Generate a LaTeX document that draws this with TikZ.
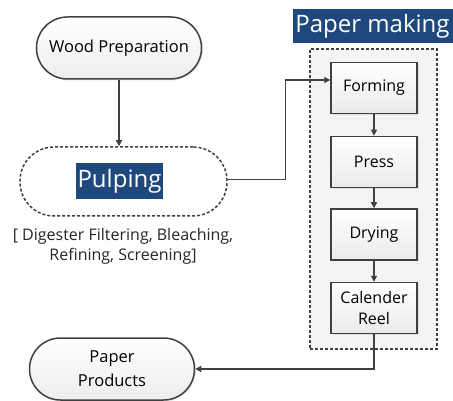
\documentclass[tikz,border=0pt]{standalone}
\usepackage{fontspec}
\setmainfont{Open Sans}
\usetikzlibrary{arrows.meta,shadows}
\definecolor{lc}{HTML}{404040}
\definecolor{navy}{HTML}{1F497D}
\begin{document}
\begin{tikzpicture}[x=1pt,y=-1pt,
  shd/.style={drop shadow={opacity=0.18,shadow xshift=1.5pt,shadow yshift=-1.5pt}},
  term/.style={draw=lc,line width=1.5pt,top color=white,bottom color=gray!14,
    minimum width=165pt,minimum height=62pt,rounded corners=31pt,align=center,
    font=\fontsize{16.5}{24}\selectfont,inner sep=0pt,shd},
  stepbox/.style={draw=lc,line width=1.5pt,top color=white,bottom color=gray!16,
    minimum width=86pt,minimum height=51pt,align=center,inner sep=0pt,
    font=\fontsize{16}{21}\selectfont,shd},
  title/.style={fill=navy,text=white,font=\fontsize{24}{28}\selectfont,inner sep=0pt},
  arr/.style={draw=lc,line width=1.2pt,-{Triangle[length=6pt,width=6pt]}},
  conn/.style={draw=lc,line width=1.2pt}]
\useasboundingbox (0,0) rectangle (453,401);
% container
\node[draw=lc,line width=1.5pt,dash pattern=on 3pt off 2pt,fill=gray!9,
  minimum width=127pt,minimum height=300pt,inner sep=0pt] (cont) at (373.5,199) {};
\node[title,minimum width=160pt,minimum height=34pt] (pm) at (372.5,26) {Paper making};
% left nodes
\node[term] (wood) at (119,48) {Wood Preparation};
\node[draw=lc,line width=1.5pt,dash pattern=on 3pt off 2pt,minimum width=207pt,
  minimum height=69pt,rounded corners=34pt,inner sep=0pt] (pulp) at (123.5,181.5) {};
\node[title,minimum width=87pt,minimum height=36pt] (pulpl) at (119.5,181) {Pulping};
\node[align=center,font=\fontsize{16}{20}\selectfont,text=black!85] (desc) at (123,246)
  {[ Digester Filtering, Bleaching,\\Refining, Screening]};
\node[term] (prod) at (112,369) {Paper\\Products};
% steps
\node[stepbox] (form) at (374,88) {Forming};
\node[stepbox] (press) at (374,162) {Press};
\node[stepbox] (dry) at (374,234.5) {Drying};
\node[stepbox] (cal) at (374,308) {Calender\\Reel};
% connectors
\draw[arr] (wood.south) -- (wood.south |- pulp.north);
\draw[arr] ([yshift=2pt]pulp.east) -- ++(58,0) |- ([yshift=8pt]form.west);
\draw[arr] (form) -- (press);
\draw[arr] (press) -- (dry);
\draw[arr] (dry) -- (cal);
\draw[arr] (cal.south) |- (prod.east);
\end{tikzpicture}
\end{document}
